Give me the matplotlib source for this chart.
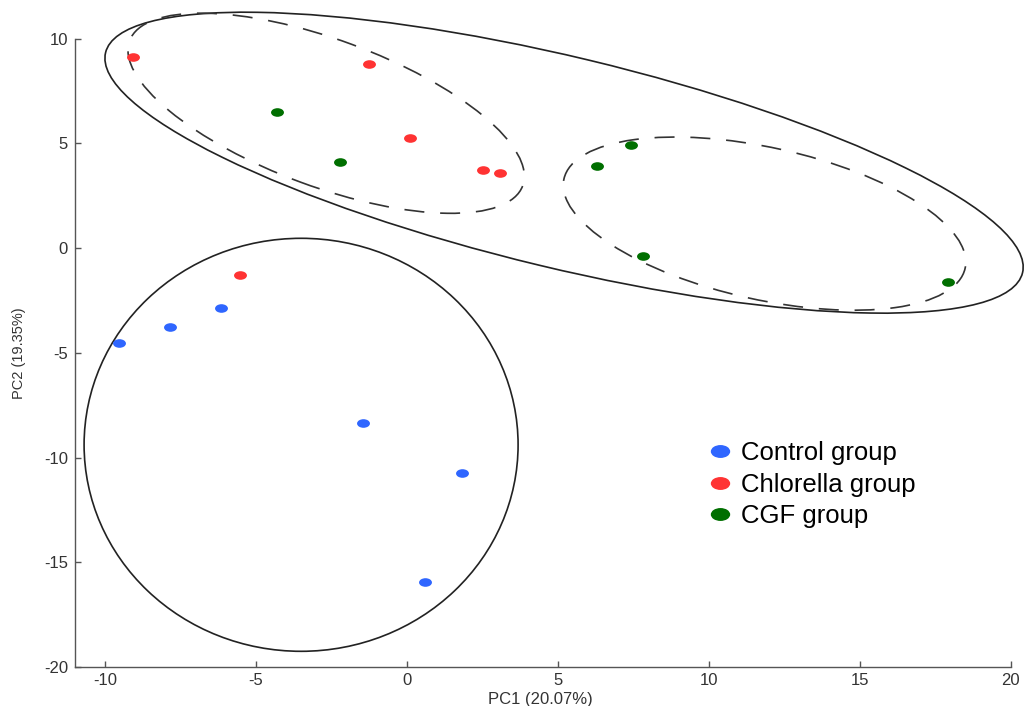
import numpy as np
import matplotlib
matplotlib.use('Agg')
import matplotlib.pyplot as plt
from matplotlib.path import Path
from matplotlib.patches import Ellipse
from matplotlib.transforms import Affine2D, ScaledTranslation

plt.rcParams['font.family'] = ['Liberation Sans', 'DejaVu Sans']
plt.rcParams['axes.unicode_minus'] = False

# PCA scores
control_x = [-9.54, -7.85, -6.16, -1.46, 1.82, 0.60]
control_y = [-4.54, -3.78, -2.87, -8.36, -10.75, -15.96]
chlorella_x = [-9.07, -1.26, 0.10, 2.52, 3.08, -5.53]
chlorella_y = [9.12, 8.78, 5.25, 3.72, 3.58, -1.29]
cgf_x = [-4.30, -2.22, 6.29, 7.42, 7.81, 17.91]
cgf_y = [6.49, 4.10, 3.91, 4.91, -0.39, -1.63]
group_names = ['Control group', 'Chlorella group', 'CGF group']

# hand drawn grouping ellipses: centre (data), full axes (inches on screen), tilt (deg)
ell_cx = [-3.51, 5.20, -2.68, 11.84]
ell_cy = [-9.39, 4.08, 6.44, 1.17]
ell_w = [4.34, 9.43, 4.19, 4.11]
ell_h = [4.13, 2.11, 1.47, 1.52]
ell_angle = [0.0, -13.5, -20.25, -12.55]
ell_dashed = [False, False, True, True]

fig = plt.figure(figsize=(10.24, 7.06), dpi=100)
ax = fig.add_axes([0.0732, 0.0552, 0.914, 0.890])

# flattened dot like the original export
dot = Path.unit_circle().transformed(Affine2D().scale(1.5, 1.0))

colors = ['#2f66ff', '#ff3333', '#006f00']
for xs, ys, c, name in zip([control_x, chlorella_x, cgf_x],
                           [control_y, chlorella_y, cgf_y], colors, group_names):
    ax.plot(xs, ys, linestyle='none', marker=dot, markersize=9.3,
            markerfacecolor=c, markeredgecolor='none', label=name, zorder=3)

for i in range(len(ell_cx)):
    tr = fig.dpi_scale_trans + ScaledTranslation(ell_cx[i], ell_cy[i], ax.transData)
    if ell_dashed[i]:
        ls = (0, (12, 9.5))
        col = '#333333'
    else:
        ls = '-'
        col = '#222222'
    e = Ellipse((0, 0), ell_w[i], ell_h[i], angle=ell_angle[i], transform=tr,
                fill=False, edgecolor=col, linewidth=1.2, linestyle=ls, clip_on=False)
    ax.add_patch(e)

ax.set_xlim(-11, 20)
ax.set_ylim(-20, 10)
ax.set_xticks(np.arange(-10, 21, 5))
ax.set_yticks(np.arange(-20, 11, 5))
for s in ['top', 'right']:
    ax.spines[s].set_visible(False)
for s in ['left', 'bottom']:
    ax.spines[s].set_color('#555555')
    ax.spines[s].set_linewidth(1.0)
ax.tick_params(direction='in', length=4, width=1.0, color='#555555',
               labelsize=12, labelcolor='#333333')
ax.tick_params(axis='x', pad=4)
ax.tick_params(axis='y', pad=5)

ax.set_xlabel('PC1 (20.07%)', fontsize=12, color='#333333')
ax.set_ylabel('PC2 (19.35%)', fontsize=10.5, color='#333333')
ax.xaxis.set_label_coords(0.497, -0.039)
ax.yaxis.set_label_coords(-0.052, 0.50)

ax.legend(frameon=False, fontsize=18.5, loc='upper left', bbox_to_anchor=(0.676, 0.359),
          handlelength=1.0, handletextpad=0.3, labelspacing=0.28, markerscale=1.5,
          borderpad=0, borderaxespad=0)

plt.savefig('out.png', dpi=100)
